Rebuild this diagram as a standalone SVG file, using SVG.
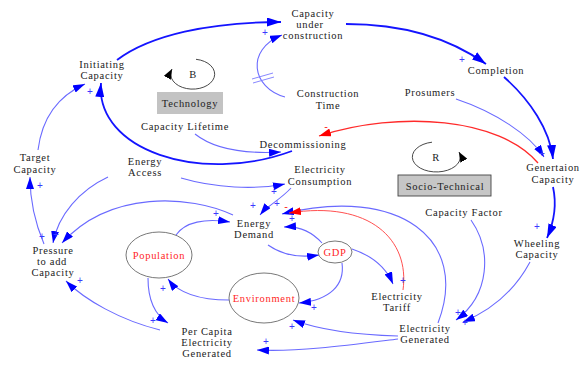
<svg xmlns="http://www.w3.org/2000/svg" width="581" height="367" viewBox="0 0 581 367">
  <style>
    .lbl { font-family: "Liberation Serif", "Times New Roman", serif; font-size: 10.5px; letter-spacing: 0.7px; fill: #222; text-anchor: middle; }
    .red { fill: #ff1f1f; }
    .node-ellipse { fill: #fff; stroke: #555; stroke-width: 0.8; }
    .strong { fill: none; stroke: #1414ff; stroke-width: 1.8; marker-end: url(#arrowBig); }
    .link { fill: none; stroke: #6a6aff; stroke-width: 1.1; marker-end: url(#arrow); }
    .neg { fill: none; stroke: #ff2a2a; stroke-width: 1.3; marker-end: url(#arrowRed); }
    .neg-thin { fill: none; stroke: #ff5050; stroke-width: 1; marker-end: url(#arrowRed); }
    .loop { fill: none; stroke: #333; stroke-width: 0.9; marker-end: url(#arrowBlack); }
    .pol { font-family: "Liberation Sans", Arial, sans-serif; font-size: 10px; fill: #3a3aff; text-anchor: middle; }
    .pol-neg { font-family: "Liberation Sans", Arial, sans-serif; font-size: 11px; fill: #ff2020; text-anchor: middle; }
    .delay { stroke: #7a7aff; stroke-width: 0.9; }
  </style>
  <defs>
    <marker id="arrow" viewBox="0 0 12 8" refX="12" refY="4" markerWidth="12" markerHeight="8" markerUnits="userSpaceOnUse" orient="auto">
      <path d="M0,0 L12,4 L0,8 z" fill="#0000ff"/>
    </marker>
    <marker id="arrowBig" viewBox="0 0 14 9" refX="14" refY="4.5" markerWidth="14" markerHeight="9" markerUnits="userSpaceOnUse" orient="auto">
      <path d="M0,0 L14,4.5 L0,9 z" fill="#0000ff"/>
    </marker>
    <marker id="arrowRed" viewBox="0 0 12 8" refX="12" refY="4" markerWidth="12" markerHeight="8" markerUnits="userSpaceOnUse" orient="auto">
      <path d="M0,0 L12,4 L0,8 z" fill="#ff0000"/>
    </marker>
    <marker id="arrowBlack" viewBox="0 0 10 8" refX="10" refY="4" markerWidth="10" markerHeight="8" markerUnits="userSpaceOnUse" orient="auto">
      <path d="M0,0 L10,4 L0,8 z" fill="#000"/>
    </marker>
  </defs>
  <rect width="581" height="367" fill="#fff"/>

  <!-- causal links -->
  <g id="connectors">
    <path class="strong" d="M117,60 C150,35 210,22 281,22"/>
    <path class="strong" d="M346,24 C410,24 455,42 486,64"/>
    <path class="strong" d="M504,77 C530,100 550,130 553,159"/>
    <path class="link" d="M456,99 C495,112 530,135 544,157"/>
    <path class="neg" d="M538,163 C500,118 400,110 319,136"/>
    <path class="link" d="M195,134 C215,150 245,154 281,152"/>
    <path class="strong" d="M292,151 C200,185 95,150 101,83"/>
    <path class="link" d="M38,150 C42,118 58,96 85,84"/>
    <path class="link" d="M285,97 C252,88 245,50 282,35"/>
    <line class="delay" x1="252" y1="79" x2="273" y2="73"/>
    <line class="delay" x1="253" y1="83" x2="274" y2="77"/>
    <path class="strong" d="M553,187 C557,205 554,222 547,238"/>
    <path class="link" d="M530,262 C515,290 492,310 463,322"/>
    <path class="link" d="M471,220 C492,250 490,295 456,320"/>
    <path class="link" d="M438,323 C470,240 400,185 282,214"/>
    <path class="neg-thin" d="M403,290 C410,240 370,200 289,213"/>
    <path class="link" d="M322,243 C312,232 300,226 284,227"/>
    <path class="link" d="M291,188 C280,200 268,205 260,215"/>
    <path class="link" d="M181,178 C215,188 255,190 285,184"/>
    <path class="link" d="M176,235 C185,222 205,218 230,222"/>
    <path class="link" d="M268,245 C282,255 300,258 319,255"/>
    <path class="link" d="M352,249 C370,255 385,265 393,284"/>
    <path class="link" d="M342,263 C345,285 330,300 299,303"/>
    <path class="link" d="M229,300 C205,300 180,295 168,279"/>
    <path class="link" d="M148,278 C148,300 155,315 168,323"/>
    <path class="link" d="M160,330 C120,320 85,300 66,281"/>
    <path class="link" d="M398,339 C350,345 300,352 257,350"/>
    <path class="link" d="M398,336 C360,335 320,330 293,320"/>
    <path class="link" d="M233,215 C190,195 110,190 62,243"/>
    <path class="link" d="M108,177 C80,190 58,215 53,243"/>
    <path class="link" d="M44,244 C36,225 30,205 30,177"/>
  </g>

  <!-- link polarities -->
  <g id="polarities">
    <text class="pol" x="265" y="36">+</text>
    <text class="pol" x="462" y="63">+</text>
    <text class="pol" x="542" y="157">+</text>
    <text class="pol" x="537" y="230">+</text>
    <text class="pol" x="90" y="95">+</text>
    <text class="pol" x="40" y="189">+</text>
    <text class="pol" x="42" y="240">+</text>
    <text class="pol" x="56" y="238">+</text>
    <text class="pol" x="80" y="284">+</text>
    <text class="pol" x="153" y="324">+</text>
    <text class="pol" x="163" y="292">+</text>
    <text class="pol" x="216" y="217">+</text>
    <text class="pol" x="253" y="209">+</text>
    <text class="pol" x="274" y="195">+</text>
    <text class="pol" x="277" y="207">+</text>
    <text class="pol" x="292" y="222">+</text>
    <text class="pol" x="403" y="284">+</text>
    <text class="pol" x="314" y="311">+</text>
    <text class="pol" x="292" y="330">+</text>
    <text class="pol" x="266" y="345">+</text>
    <text class="pol" x="458" y="316">+</text>
    <text class="pol" x="465" y="326">+</text>
    <text class="pol-neg" x="326" y="130">-</text>
    <text class="pol-neg" x="286" y="210">-</text>
  </g>

  <!-- feedback loop markers -->
  <g id="loop-B">
    <path class="loop" d="M196,59.3 A22,15 0 1 1 172,69"/>
    <text class="lbl" x="193" y="78">B</text>
  </g>
  <g id="loop-R">
    <path class="loop" d="M432,142.2 A24,15 0 1 0 459,152"/>
    <text class="lbl" x="436" y="161">R</text>
  </g>
  <g id="technology">
    <rect x="157" y="92" width="66" height="22" fill="#c3c3c3"/>
    <text class="lbl" x="190" y="107">Technology</text>
  </g>
  <g id="socio-technical">
    <rect x="398" y="175" width="93" height="21" fill="#c6c6c6" stroke="#444" stroke-width="0.9"/>
    <text class="lbl" x="445" y="190">Socio-Technical</text>
  </g>

  <!-- variables -->
  <g id="capacity-under-construction">
    <text class="lbl" x="313" y="17">Capacity</text>
    <text class="lbl" x="310" y="28">under</text>
    <text class="lbl" x="313" y="39">construction</text>
  </g>
  <g id="initiating-capacity">
    <text class="lbl" x="102" y="68">Initiating</text>
    <text class="lbl" x="102" y="79">Capacity</text>
  </g>
  <g id="construction-time">
    <text class="lbl" x="328" y="97">Construction</text>
    <text class="lbl" x="328" y="109">Time</text>
  </g>
  <g id="completion">
    <text class="lbl" x="496" y="74">Completion</text>
  </g>
  <g id="prosumers">
    <text class="lbl" x="430" y="96">Prosumers</text>
  </g>
  <g id="capacity-lifetime">
    <text class="lbl" x="185" y="130">Capacity Lifetime</text>
  </g>
  <g id="decommissioning">
    <text class="lbl" x="303" y="148">Decommissioning</text>
  </g>
  <g id="generation-capacity">
    <text class="lbl" x="553" y="171">Genertaion</text>
    <text class="lbl" x="553" y="183">Capacity</text>
  </g>
  <g id="target-capacity">
    <text class="lbl" x="35" y="161">Target</text>
    <text class="lbl" x="35" y="173">Capacity</text>
  </g>
  <g id="energy-access">
    <text class="lbl" x="145" y="165">Energy</text>
    <text class="lbl" x="145" y="176">Access</text>
  </g>
  <g id="electricity-consumption">
    <text class="lbl" x="320" y="173">Electricity</text>
    <text class="lbl" x="320" y="185">Consumption</text>
  </g>
  <g id="energy-demand">
    <text class="lbl" x="254" y="227">Energy</text>
    <text class="lbl" x="254" y="238">Demand</text>
  </g>
  <g id="capacity-factor">
    <text class="lbl" x="464" y="216">Capacity Factor</text>
  </g>
  <g id="wheeling-capacity">
    <text class="lbl" x="537" y="247">Wheeling</text>
    <text class="lbl" x="537" y="258">Capacity</text>
  </g>
  <g id="pressure-to-add-capacity">
    <text class="lbl" x="53" y="254">Pressure</text>
    <text class="lbl" x="52" y="265">to add</text>
    <text class="lbl" x="53" y="276">Capacity</text>
  </g>
  <g id="population">
    <ellipse class="node-ellipse" cx="159" cy="255" rx="33" ry="23"/>
    <text class="lbl red" x="159" y="259">Population</text>
  </g>
  <g id="environment">
    <ellipse class="node-ellipse" cx="264" cy="298" rx="35" ry="25"/>
    <text class="lbl red" x="264" y="302">Environment</text>
  </g>
  <g id="gdp">
    <ellipse class="node-ellipse" cx="335" cy="252" rx="17" ry="11"/>
    <text class="lbl red" x="335" y="256">GDP</text>
  </g>
  <g id="electricity-tariff">
    <text class="lbl" x="397" y="300">Electricity</text>
    <text class="lbl" x="397" y="311">Tariff</text>
  </g>
  <g id="electricity-generated">
    <text class="lbl" x="425" y="332">Electricity</text>
    <text class="lbl" x="425" y="343">Generated</text>
  </g>
  <g id="per-capita-electricity-generated">
    <text class="lbl" x="207" y="335">Per Capita</text>
    <text class="lbl" x="207" y="346">Electricity</text>
    <text class="lbl" x="207" y="357">Generated</text>
  </g>
</svg>
